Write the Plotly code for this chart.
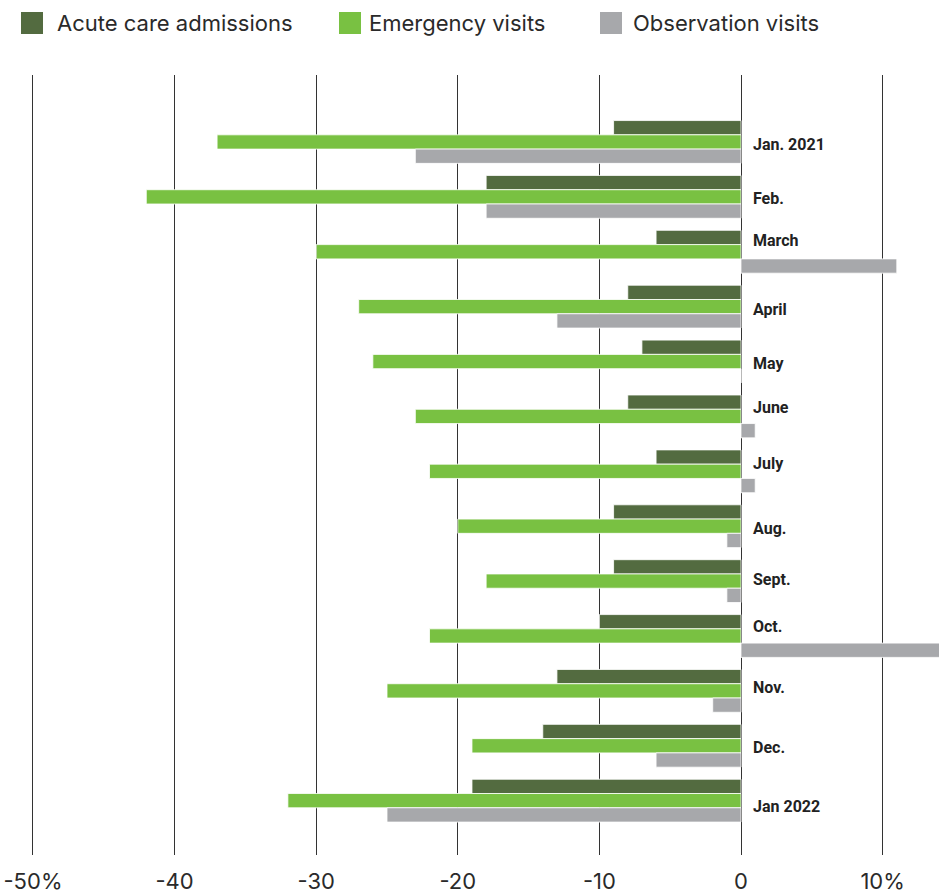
import plotly.graph_objects as go

months = ["Jan. 2021", "Feb.", "March", "April", "May", "June", "July",
          "Aug.", "Sept.", "Oct.", "Nov.", "Dec.", "Jan 2022"]
acute = [-9, -18, -6, -8, -7, -8, -6, -9, -9, -10, -13, -14, -19]
emergency = [-37, -42, -30, -27, -26, -23, -22, -20, -18, -22, -25, -19, -32]
observation = [-23, -18, 11, -13, 0, 1, 1, -1, -1, 15, -2, -6, -25]

series_names = ["Acute care admissions", "Emergency visits", "Observation visits"]
colors = ["#536b40", "#79c142", "#a7a8ab"]

tick_vals = [-50, -40, -30, -20, -10, 0, 10]
tick_text = ["-50%", "-40", "-30", "-20", "-10", "0", "10%"]

# vertical pixel nudges of the month labels (layout only)
label_offsets = [3, 2, -11, 3, 2, -9, -8, 2, -2, -9, -3, 2, 6]

fig = go.Figure()
for name, vals, col in zip(series_names, [acute, emergency, observation], colors):
    fig.add_trace(go.Bar(
        y=months, x=vals, name=name, orientation="h",
        marker=dict(color=col, line=dict(color="white", width=0.8)),
        showlegend=False,
    ))

annotations = []
for m, off in zip(months, label_offsets):
    annotations.append(dict(
        x=0, y=m, xref="x", yref="y", text=m, showarrow=False,
        xanchor="left", yanchor="middle", xshift=10, yshift=-off,
        font=dict(family="Roboto", size=16, color="#222222", weight="bold"),
    ))

# manual legend (large squares)
plot_top, plot_bottom = 75, 855
ph = plot_bottom - plot_top
def py(pix):
    return (plot_bottom - pix) / ph

legend_sq_x = [21, 339, 600]
legend_txt_x = [55, 367, 631]
shapes = []
for lx, tx, name, col in zip(legend_sq_x, legend_txt_x, series_names, colors):
    shapes.append(dict(type="rect", xref="paper", yref="paper",
                       x0=lx / 939, x1=(lx + 22) / 939, y0=py(34), y1=py(12),
                       fillcolor=col, line=dict(width=0)))
    annotations.append(dict(x=tx / 939, y=py(23), xref="paper", yref="paper",
                            text=name, showarrow=False, xanchor="left", yanchor="middle",
                            font=dict(family="Inter", size=22, color="#2a2a2a")))

fig.update_layout(
    width=939, height=894,
    margin=dict(l=0, r=0, t=plot_top, b=894 - plot_bottom),
    paper_bgcolor="white", plot_bgcolor="white",
    barmode="group", bargap=0.22, bargroupgap=0,
    annotations=annotations, shapes=shapes,
    font=dict(family="Inter", color="#2a2a2a"),
)
fig.update_xaxes(range=[-52.33, 13.98], tickvals=tick_vals, ticktext=tick_text,
                 showgrid=True, gridcolor="#333333", gridwidth=1,
                 zeroline=True, zerolinecolor="#333333", zerolinewidth=1,
                 showline=False, ticks="", ticklabelstandoff=11,
                 tickfont=dict(family="Inter", size=22, color="#2a2a2a"))
fig.update_yaxes(range=[12.99, -1.22], showticklabels=False, showgrid=False,
                 zeroline=False, showline=False, ticks="")

fig.write_html("out.html")
